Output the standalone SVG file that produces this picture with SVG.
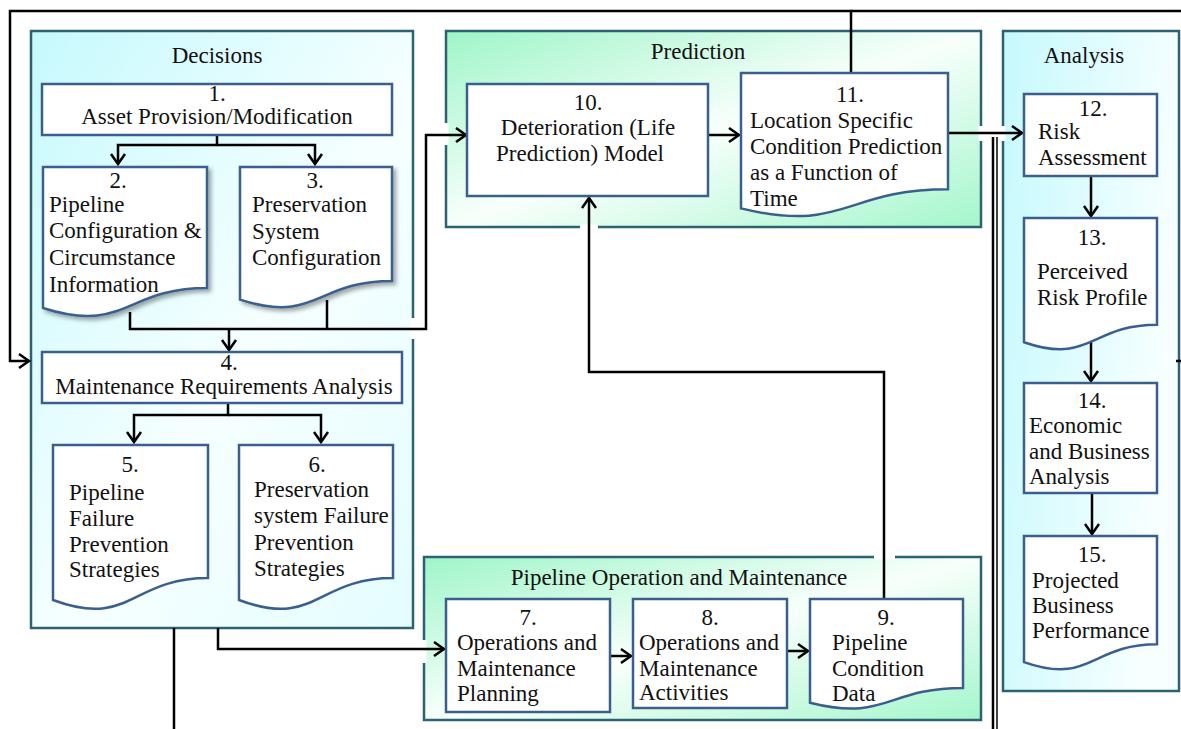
<svg xmlns="http://www.w3.org/2000/svg" width="1181" height="729" viewBox="0 0 1181 729" font-family="Liberation Serif, Times New Roman, serif">
<defs>
<style>
.cont{stroke:#2d6273;stroke-width:2.5}
.node{fill:#fff;stroke:#3a5f8e;stroke-width:2.5}
.t{font-size:23px;fill:#111}
.c{text-anchor:middle}
.ln{fill:none;stroke:#000;stroke-width:2.5}
.gap{stroke:#fff;stroke-width:5;fill:none}
</style>
<linearGradient id="gCyan" x1="0" y1="0" x2="1" y2="1">
<stop offset="0" stop-color="#c6f9fd"/>
<stop offset="0.55" stop-color="#f6ffff"/>
<stop offset="1" stop-color="#e4fdff"/>
</linearGradient>
<linearGradient id="gCyanA" x1="0" y1="0" x2="1" y2="0.3">
<stop offset="0" stop-color="#c6f9fd"/>
<stop offset="1" stop-color="#f8ffff"/>
</linearGradient>
<linearGradient id="gGreen" x1="0" y1="0" x2="1" y2="1">
<stop offset="0" stop-color="#9ff5c9"/>
<stop offset="0.5" stop-color="#f8fffb"/>
<stop offset="1" stop-color="#a4f6cc"/>
</linearGradient>
<filter id="sh" x="-10%" y="-10%" width="130%" height="130%">
<feDropShadow dx="3" dy="3" stdDeviation="2" flood-color="#000" flood-opacity="0.35"/>
</filter>
<marker id="arr" markerWidth="16" markerHeight="20" viewBox="-13 -10 16 20" refX="0" refY="0" orient="auto" markerUnits="userSpaceOnUse">
<path d="M-10,-7 L0,0 L-10,7" fill="none" stroke="#000" stroke-width="2.5"/>
</marker>
</defs>

<g id="containers">
<g id="decisions">
<rect class="cont" x="31" y="31" width="382" height="597" fill="url(#gCyan)"/>
<text class="t c" x="217" y="63">Decisions</text>
</g>
<g id="prediction">
<rect class="cont" x="446" y="31" width="535" height="196" fill="url(#gGreen)"/>
<text class="t c" x="698" y="59">Prediction</text>
</g>
<g id="analysis">
<rect class="cont" x="1003" y="31" width="176" height="660" fill="url(#gCyanA)"/>
<text class="t c" x="1084" y="63">Analysis</text>
</g>
<g id="operation">
<rect class="cont" x="424" y="557" width="557" height="163" fill="url(#gGreen)"/>
<text class="t c" x="679" y="585">Pipeline Operation and Maintenance</text>
</g>
</g>

<g id="connectors">
<path class="gap" d="M413 318 V339 M446 123 V145 M580 227 H598 M981 126 V141 M1003 126 V141 M874 557 H895 M424 640 V663"/>
<path class="ln" d="M851 11 H1181"/>
<path class="ln" d="M851 73 V11 H10 V361 H29" marker-end="url(#arr)"/>
<path class="ln" d="M1176 361 H1181"/>
<path class="ln" d="M217 135 V145 H118 V164" marker-end="url(#arr)"/>
<path class="ln" d="M217 145 H315 V164" marker-end="url(#arr)"/>
<path class="ln" d="M130 312 V329 H426 V135 H466" marker-end="url(#arr)"/>
<path class="ln" d="M327 300 V329"/>
<path class="ln" d="M229 329 V350" marker-end="url(#arr)"/>
<path class="ln" d="M228 403 V415 H134 V442" marker-end="url(#arr)"/>
<path class="ln" d="M228 415 H321 V442" marker-end="url(#arr)"/>
<path class="ln" d="M218 628 V649 H444" marker-end="url(#arr)"/>
<path class="ln" d="M174 628 V729"/>
<path class="ln" d="M610 656 H631" marker-end="url(#arr)"/>
<path class="ln" d="M787 651 H808" marker-end="url(#arr)"/>
<path class="ln" d="M884 599 V372 H589 V198" marker-end="url(#arr)"/>
<path class="ln" d="M708 135 H739" marker-end="url(#arr)"/>
<path class="ln" d="M948 133 H1022" marker-end="url(#arr)"/>
<path class="ln" d="M993 137 V729"/>
<path d="M997 137 V729" fill="none" stroke="#000" stroke-width="1.5"/>
<path class="ln" d="M1091 176 V216" marker-end="url(#arr)"/>
<path class="ln" d="M1091 341 V381" marker-end="url(#arr)"/>
<path class="ln" d="M1092 493 V534" marker-end="url(#arr)"/>
</g>

<g id="n1">
<rect class="node" x="42" y="84" width="350" height="51"/>
<text class="t c" x="217" y="101">1.</text>
<text class="t c" x="217" y="124">Asset Provision/Modification</text>
</g>
<g id="n2">
<path class="node" filter="url(#sh)" d="M43 167 H207 V288.1 C125 288.1 125 334.2 43 308 Z"/>
<text class="t c" x="118" y="188">2.</text>
<text class="t" x="49" y="212">Pipeline</text>
<text class="t" x="49" y="238">Configuration &amp;</text>
<text class="t" x="49" y="265">Circumstance</text>
<text class="t" x="49" y="292">Information</text>
</g>
<g id="n3">
<path class="node" filter="url(#sh)" d="M240 167 H392 V280.9 C316 280.9 316 324.3 240 299.6 Z"/>
<text class="t c" x="315" y="188">3.</text>
<text class="t" x="252" y="212">Preservation</text>
<text class="t" x="252" y="239">System</text>
<text class="t" x="252" y="265">Configuration</text>
</g>
<g id="n4">
<rect class="node" x="42" y="352" width="360" height="51"/>
<text class="t c" x="229" y="370">4.</text>
<text class="t c" x="224" y="394">Maintenance Requirements Analysis</text>
</g>
<g id="n5">
<path class="node" d="M53 445 H208 V578.1 C130.5 578.1 130.5 628.8 53 600 Z"/>
<text class="t c" x="130" y="472">5.</text>
<text class="t" x="69" y="500">Pipeline</text>
<text class="t" x="69" y="526">Failure</text>
<text class="t" x="69" y="552">Prevention</text>
<text class="t" x="69" y="577">Strategies</text>
</g>
<g id="n6">
<path class="node" d="M239 445 H393 V578.1 C316 578.1 316 628.8 239 600 Z"/>
<text class="t c" x="317" y="472">6.</text>
<text class="t" x="254" y="497">Preservation</text>
<text class="t" x="254" y="523">system Failure</text>
<text class="t" x="254" y="550">Prevention</text>
<text class="t" x="254" y="576">Strategies</text>
</g>
<g id="n7">
<rect class="node" x="446" y="599" width="164" height="113"/>
<text class="t c" x="528" y="625">7.</text>
<text class="t" x="457" y="650">Operations and</text>
<text class="t" x="457" y="676">Maintenance</text>
<text class="t" x="457" y="701">Planning</text>
</g>
<g id="n8">
<rect class="node" x="633" y="599" width="154" height="109"/>
<text class="t c" x="710" y="625">8.</text>
<text class="t" x="639" y="650">Operations and</text>
<text class="t" x="639" y="676">Maintenance</text>
<text class="t" x="639" y="700">Activities</text>
</g>
<g id="n9">
<path class="node" d="M810 599 H963 V688 C886.5 688 886.5 721.9 810 702.7 Z"/>
<text class="t c" x="886" y="625">9.</text>
<text class="t" x="832" y="650">Pipeline</text>
<text class="t" x="832" y="676">Condition</text>
<text class="t" x="832" y="701">Data</text>
</g>
<g id="n10">
<rect class="node" x="467" y="84" width="241" height="112"/>
<text class="t c" x="588" y="110">10.</text>
<text class="t c" x="588" y="135">Deterioration (Life</text>
<text class="t c" x="580" y="161">Prediction) Model</text>
</g>
<g id="n11">
<path class="node" d="M741 73 H948 V189.3 C844.5 189.3 844.5 233.6 741 208.4 Z"/>
<text class="t c" x="850" y="102">11.</text>
<text class="t" x="750" y="128">Location Specific</text>
<text class="t" x="750" y="154">Condition Prediction</text>
<text class="t" x="750" y="180">as a Function of</text>
<text class="t" x="750" y="206">Time</text>
</g>
<g id="n12">
<rect class="node" x="1024" y="94" width="133" height="82"/>
<text class="t c" x="1093" y="116">12.</text>
<text class="t" x="1038" y="139">Risk</text>
<text class="t" x="1038" y="165">Assessment</text>
</g>
<g id="n13">
<path class="node" d="M1024 218 H1157 V324.7 C1090.5 324.7 1090.5 365.3 1024 342.2 Z"/>
<text class="t c" x="1092" y="245">13.</text>
<text class="t" x="1037" y="279">Perceived</text>
<text class="t" x="1037" y="305">Risk Profile</text>
</g>
<g id="n14">
<rect class="node" x="1024" y="383" width="133" height="110"/>
<text class="t c" x="1092" y="408">14.</text>
<text class="t" x="1029" y="433">Economic</text>
<text class="t" x="1029" y="459">and Business</text>
<text class="t" x="1029" y="484">Analysis</text>
</g>
<g id="n15">
<path class="node" d="M1024 536 H1157 V644.3 C1090.5 644.3 1090.5 685.5 1024 662.1 Z"/>
<text class="t c" x="1092" y="562">15.</text>
<text class="t" x="1032" y="588">Projected</text>
<text class="t" x="1032" y="613">Business</text>
<text class="t" x="1032" y="638">Performance</text>
</g>
</svg>
